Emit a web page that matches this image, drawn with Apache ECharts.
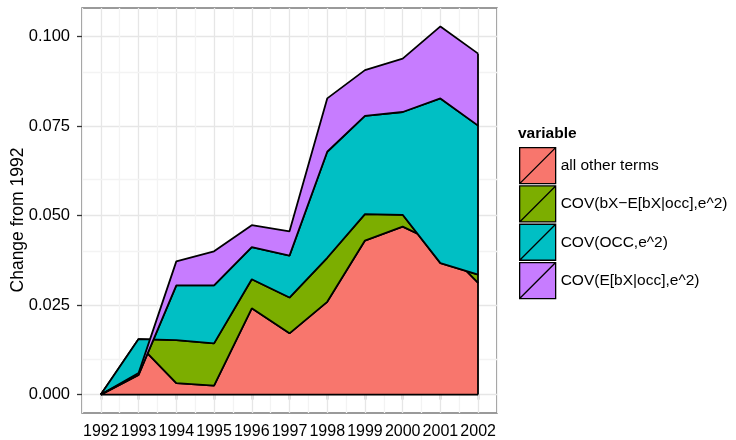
<!DOCTYPE html>
<html>
<head>
<meta charset="utf-8">
<script src="https://cdn.jsdelivr.net/npm/echarts@6/dist/echarts.min.js"></script>
<style>
  html, body { margin: 0; padding: 0; background: #fff; }
  #chart { width: 736px; height: 440px; }
</style>
</head>
<body>
<div id="chart"></div>
<script>
// x categories
var years = ['1992', '1993', '1994', '1995', '1996', '1997', '1998', '1999', '2000', '2001', '2002'];

// legend names, in stacking order (bottom first)
var termNames = ['all other terms', 'COV(bX\u2212E[bX|occ],e^2)', 'COV(OCC,e^2)', 'COV(E[bX|occ],e^2)'];
var termColors = ['#F8766D', '#7CAE00', '#00BFC4', '#C77CFF'];

// contribution of each term, change from 1992
var otherTerms = [0, 0.0141, 0.0032, 0.0025, 0.0241, 0.0171, 0.0259, 0.0430, 0.0469, 0.0419, 0.0312];
var covBxResid = [0, 0.0014, 0.0120, 0.0118, 0.0081, 0.0100, 0.0123, 0.0074, 0.0033, -0.0052, 0.0023];
var covOcc     = [0, -0.0100, 0.0153, 0.0162, 0.0090, 0.0117, 0.0296, 0.0274, 0.0287, 0.0460, 0.0416];
var covEbx     = [0, 0.0005, 0.0067, 0.0095, 0.0061, 0.0068, 0.0149, 0.0128, 0.0149, 0.0201, 0.0201];

// y tick labels
var yTicks = [0, 0.025, 0.05, 0.075, 0.1];
var yTitle = 'Change from 1992';

var FONT = '"Liberation Sans", Arial, Helvetica, sans-serif';
var LINE_W = 1.8;
var layers = [otherTerms, covBxResid, covOcc, covEbx];

// running tops of each band (same sums the stack makes)
var tops = [];
var run = years.map(function () { return 0; });
layers.forEach(function (vals) {
  run = run.map(function (v, i) { return v + vals[i]; });
  tops.push(run.slice());
});

// ggplot style 5% expansion of the data range
var allVals = [0];
tops.forEach(function (t) { allVals = allVals.concat(t); });
var lo = Math.min.apply(null, allVals), hi = Math.max.apply(null, allVals);
var pad = (hi - lo) * 0.05;
var step = yTicks[1] - yTicks[0];

var series = [];
layers.forEach(function (vals, k) {
  series.push({
    name: termNames[k],
    type: 'line',
    stack: 'terms',
    stackStrategy: 'all',
    z: 2 + 2 * k,
    data: vals,
    symbol: 'none',
    silent: true,
    areaStyle: { color: termColors[k], opacity: 1 },
    lineStyle: { color: '#000', width: LINE_W },
    emphasis: { disabled: true }
  });
  // lower edge of the band (polygon outline)
  series.push({
    type: 'line',
    z: 3 + 2 * k,
    data: k ? tops[k - 1] : years.map(function () { return 0; }),
    symbol: 'none',
    silent: true,
    lineStyle: { color: '#000', width: LINE_W },
    emphasis: { disabled: true }
  });
});

// grid lines that the axes cannot give: major x at the years, minor y between ticks
var gridLines = years.map(function (y) {
  return { xAxis: y, lineStyle: { color: '#e6e6e6', width: 1.3, type: 'solid' } };
});
for (var i = 1; i < yTicks.length; i++) {
  gridLines.push({ yAxis: (yTicks[i - 1] + yTicks[i]) / 2, lineStyle: { color: '#f3f3f3', width: 1.3, type: 'solid' } });
}
series.push({
  type: 'line', z: 1, data: [], silent: true,
  markLine: { z: 1, silent: true, symbol: 'none', label: { show: false }, data: gridLines }
});

// right end edge of the stacked areas
var last = years.length - 1;
var endTop = Math.max.apply(null, tops.map(function (t) { return t[last]; }));
series.push({
  type: 'line', z: 20, data: [], silent: true,
  markLine: {
    z: 20, silent: true, symbol: 'none', label: { show: false },
    lineStyle: { color: '#000', width: LINE_W, type: 'solid' },
    data: [[{ coord: [years[last], 0] }, { coord: [years[last], endTop] }]]
  }
});

var chart = echarts.init(document.getElementById('chart'));
chart.setOption({
  animation: false,
  backgroundColor: '#fff',
  textStyle: { fontFamily: FONT },
  title: {
    text: 'variable', left: 518, top: 126, padding: 0,
    textStyle: { fontSize: 15.5, fontWeight: 'bold', color: '#000', fontFamily: FONT }
  },
  // rotated y axis title
  graphic: [{
    type: 'text', x: 18, y: 220, rotation: Math.PI / 2, silent: true,
    style: {
      text: yTitle, fill: '#000', align: 'center', verticalAlign: 'middle',
      font: '17.5px ' + FONT
    }
  }],
  legend: {
    orient: 'vertical', left: 519, top: 147, padding: 0,
    itemWidth: 36, itemHeight: 36, itemGap: 1,
    icon: 'path://M0,0L36,0L36,36L0,36ZM0,36L36,0',
    selectedMode: false,
    textStyle: { fontSize: 15.5, color: '#000', fontFamily: FONT },
    data: termNames.map(function (n, k) {
      return { name: n, itemStyle: { color: termColors[k], borderColor: '#000', borderWidth: 1.3 } };
    })
  },
  grid: {
    left: 82, top: 8, right: 239, bottom: 27,
    containLabel: false, outerBoundsMode: 'none',
    show: true, backgroundColor: '#fff', borderColor: '#7a7a7a', borderWidth: 1.5
  },
  xAxis: {
    type: 'category', data: years, boundaryGap: true,
    axisLine: { show: false },
    axisTick: { show: true, alignWithLabel: true, length: 5, lineStyle: { color: '#333', width: 1.3 } },
    axisLabel: { interval: 0, fontSize: 16, color: '#000', margin: 11, fontFamily: FONT },
    splitLine: { show: true, interval: 0, lineStyle: { color: '#f3f3f3', width: 1.3 } }
  },
  yAxis: {
    type: 'value', min: lo - pad, max: hi + pad,
    minInterval: step, maxInterval: step,
    axisLine: { show: false },
    axisTick: { show: true, length: 5, customValues: yTicks, lineStyle: { color: '#333', width: 1.3 } },
    axisLabel: {
      fontSize: 16.5, color: '#000', margin: 12, fontFamily: FONT, customValues: yTicks,
      formatter: function (v) { return v.toFixed(3); }
    },
    splitLine: { show: true, lineStyle: { color: '#e6e6e6', width: 1.3 } }
  },
  series: series
});
</script>
</body>
</html>
